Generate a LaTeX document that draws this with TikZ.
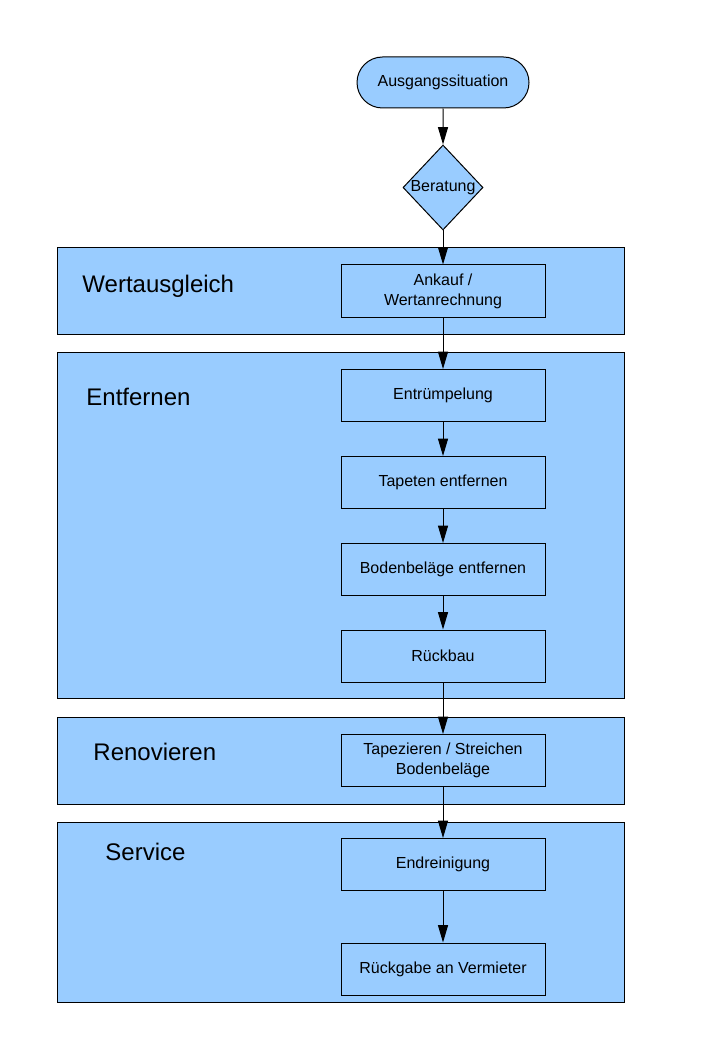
\documentclass[tikz,border=0pt]{standalone}
\usepackage{fontspec}
\setmainfont{Liberation Sans}
\usetikzlibrary{shapes.geometric,shapes.misc,arrows.meta}
\definecolor{paneblue}{HTML}{99CCFF}
\tikzset{
    group/.style={draw, fill=paneblue},
    grouplabel/.style={anchor=west, font=\fontsize{18}{22}\selectfont},
    task/.style={draw, fill=paneblue, minimum width=204*0.75pt, minimum height=52*0.75pt, align=center, inner sep=0pt},
    flow/.style={-{Triangle[width=7.5pt, length=13pt]}}
}
\begin{document}
\begin{tikzpicture}[x=0.75pt, y=-0.75pt, line width=0.75pt, font=\fontsize{12}{15}\selectfont]
    \useasboundingbox (0,0) rectangle (719,1048);
    % panels
    \draw [group] (57,248) rectangle (624,334);
    \draw [group] (57,352) rectangle (624,698);
    \draw [group] (57,717) rectangle (624,804);
    \draw [group] (57,822) rectangle (624,1002);
    \node [grouplabel] (wert) at (77.5,286) {Wertausgleich};
    \node [grouplabel] (entf) at (81.5,397) {Entfernen};
    \node [grouplabel] (reno) at (88.5,752) {Renovieren};
    \node [grouplabel] (serv) at (100.5,852) {Service};
    % start and decision
    \node [draw, fill=paneblue, rounded rectangle, minimum width=172*0.75pt, minimum height=51*0.75pt, inner sep=0pt] (start) at (443,82.5) {Ausgangssituation};
    \node [draw, fill=paneblue, diamond, minimum width=80*0.75pt, minimum height=85*0.75pt, inner sep=0pt] (berat) at (443,187.5) {Beratung};
    % steps
    \node [task] (ankauf) at (443,291) {Ankauf /\\Wertanrechnung};
    \node [task] (entr) at (443,395.5) {Entrümpelung};
    \node [task] (tapet) at (443,482.5) {Tapeten entfernen};
    \node [task] (boden) at (443,569.5) {Bodenbeläge entfernen};
    \node [task] (rueck) at (443,656) {Rückbau};
    \node [task] (tapez) at (443,760.5) {Tapezieren / Streichen\\Bodenbeläge};
    \node [task] (endr) at (443,864.5) {Endreinigung};
    \node [task] (rgabe) at (443,969) {Rückgabe an Vermieter};
    \draw [flow] (start) -- (berat);
    \draw [flow] (berat) -- (ankauf);
    \draw [flow] (ankauf) -- (entr);
    \draw [flow] (entr) -- (tapet);
    \draw [flow] (tapet) -- (boden);
    \draw [flow] (boden) -- (rueck);
    \draw [flow] (rueck) -- (tapez);
    \draw [flow] (tapez) -- (endr);
    \draw [flow] (endr) -- (rgabe);
\end{tikzpicture}
\end{document}
